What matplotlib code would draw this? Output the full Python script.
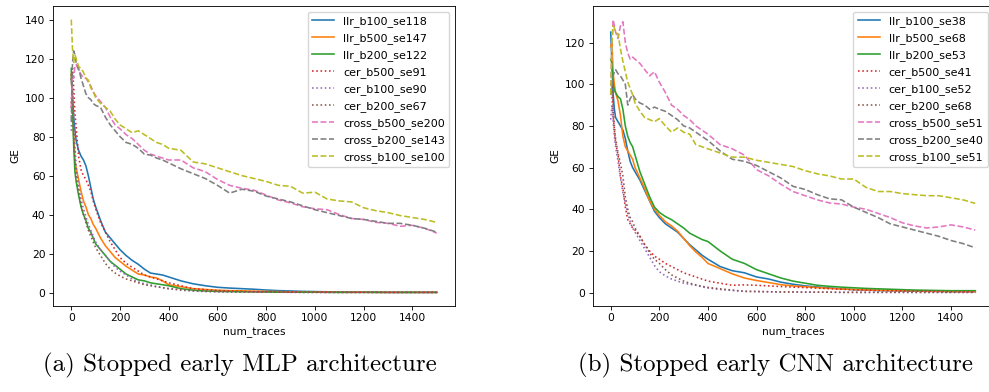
import matplotlib
matplotlib.use("Agg")
import matplotlib.pyplot as plt

# Shared sampling points (number of traces)
num_traces = [0, 5, 10, 15, 20, 30, 40, 50, 60, 70, 80, 90, 100, 120, 140, 160, 180, 200,
              225, 250, 275, 300, 325, 350, 375, 400, 450, 500, 550, 600, 650, 700, 750,
              800, 850, 900, 950, 1000, 1050, 1100, 1150, 1200, 1250, 1300, 1350, 1400,
              1450, 1500]

# ---- MLP architecture (stopped early) ----
mlp_labels = ["llr_b100_se118", "llr_b500_se147", "llr_b200_se122",
              "cer_b500_se91", "cer_b100_se90", "cer_b200_se67",
              "cross_b500_se200", "cross_b200_se143", "cross_b100_se100"]

mlp_llr_b100 = [110, 100, 90, 83, 78, 73, 70, 68, 65, 60, 54, 48, 44, 37, 31, 28, 25, 22,
                19, 16.5, 14.5, 12, 10, 9.5, 9, 8, 6, 4.5, 3.5, 2.7, 2.3, 2, 1.7,
                1.3, 1, 0.8, 0.6, 0.5, 0.4, 0.3, 0.3, 0.2, 0.2, 0.1, 0.1, 0.1, 0.1, 0.1]
mlp_llr_b500 = [112, 95, 80, 68, 64, 58, 52, 47, 44, 40, 38, 35, 33, 28, 24, 21, 18, 16,
                13.5, 11.5, 9.5, 9, 8, 7.5, 6, 4, 3, 2, 1.6, 1.2, 1, 0.9, 0.7,
                0.6, 0.5, 0.4, 0.3, 0.3, 0.2, 0.2, 0.2, 0.2, 0.1, 0.1, 0.1, 0.1, 0.1, 0.1]
mlp_llr_b200 = [115, 95, 75, 62, 57, 50, 44, 40, 37, 33, 31, 28, 25, 22, 19, 16, 14, 12,
                9.5, 8, 6.5, 6, 5, 4.5, 4, 3.5, 2, 1.2, 0.8, 0.6, 0.5, 0.4, 0.3,
                0.3, 0.2, 0.2, 0.2, 0.2, 0.1, 0.1, 0.1, 0.1, 0.1, 0.1, 0.1, 0.1, 0.1, 0.1]
mlp_cer_b500 = [95, 115, 105, 92, 85, 70, 63, 60, 58, 55, 52, 47, 43, 36, 31, 26, 22, 18,
                15, 13, 11, 9, 8, 7, 6, 5, 3.5, 2, 1.5, 1, 0.8, 0.6, 0.5,
                0.4, 0.3, 0.3, 0.2, 0.2, 0.2, 0.1, 0.1, 0.1, 0.1, 0.1, 0.1, 0.1, 0.1, 0.1]
mlp_cer_b100 = [83, 105, 90, 75, 65, 55, 48, 43, 39, 35, 32, 29, 26, 22, 19, 16, 13, 11,
                9, 7, 5.5, 4.5, 4, 3, 2.5, 2, 1.2, 0.8, 0.5, 0.4, 0.3, 0.3, 0.2,
                0.2, 0.2, 0.1, 0.1, 0.1, 0.1, 0.1, 0.1, 0.1, 0.1, 0.1, 0.1, 0.1, 0.1, 0.1]
mlp_cer_b200 = [112, 100, 80, 68, 60, 52, 45, 40, 36, 32, 29, 26, 23, 19, 15, 12, 10, 8.5,
                7, 6, 5, 4, 3.5, 3, 2.5, 2, 1.5, 1, 0.7, 0.5, 0.4, 0.3, 0.3,
                0.2, 0.2, 0.2, 0.1, 0.1, 0.1, 0.1, 0.1, 0.1, 0.1, 0.1, 0.1, 0.1, 0.1, 0.1]
mlp_cross_b500 = [95, 112, 110, 116, 117, 114, 112, 110, 110, 108, 106, 103, 101, 98, 95, 90,
                  86, 84, 81, 79, 76, 73, 71, 70, 69, 68, 68, 64, 62, 58, 55, 53.5, 52.5,
                  50, 47.5, 46, 44, 43, 42.5, 40, 38, 37.5, 36, 35.5, 34, 34.5, 33, 30.5]
mlp_cross_b200 = [88, 118, 124, 122, 118, 115, 110, 106, 102, 100, 99, 97, 96, 95, 90, 86,
                  83, 80, 77, 76, 74, 71, 70.5, 69, 68, 66.5, 63.5, 61, 58.5, 55, 51, 53, 52,
                  49.5, 48, 46.5, 44.5, 42.5, 41, 39.5, 38, 37.5, 36.5, 35.5, 35.5, 34.5, 33, 31]
mlp_cross_b100 = [140, 125, 118, 122, 120, 116, 115, 113, 110, 109, 105, 103, 100, 97, 95, 93,
                  89, 86, 84, 82, 83, 81, 79, 77, 76, 74, 73, 67, 66, 64, 62, 60, 58.5,
                  57, 55, 54.5, 51, 51.5, 48, 47, 46.5, 43.5, 42, 41, 39.5, 38.5, 37.5, 36]

# ---- CNN architecture (stopped early) ----
cnn_labels = ["llr_b100_se38", "llr_b500_se68", "llr_b200_se53",
              "cer_b500_se41", "cer_b100_se52", "cer_b200_se68",
              "cross_b500_se51", "cross_b200_se40", "cross_b100_se51"]

cnn_llr_b100 = [125, 110, 95, 88, 84, 82, 80, 78, 74, 68, 63, 60, 58, 54, 49, 44, 39, 36,
                33, 31, 29, 26, 23, 20.5, 18, 16, 12.5, 10.5, 9.5, 7.5, 6.5, 5, 4,
                3.2, 2.7, 2.2, 1.8, 1.4, 1.2, 1, 0.9, 0.8, 0.7, 0.6, 0.6, 0.5, 0.5, 0.5]
cnn_llr_b500 = [118, 120, 105, 100, 96, 92, 85, 75, 70, 68, 66, 64, 60, 55, 50, 44, 40, 37,
                34, 32, 29.5, 26, 22.5, 19.5, 17, 14, 11.5, 9, 7, 5.8, 4.8, 3.8, 3.2,
                2.8, 2.4, 2, 1.7, 1.5, 1.3, 1.1, 1, 0.9, 0.8, 0.7, 0.6, 0.5, 0.5, 0.4]
cnn_llr_b200 = [112, 110, 100, 97, 96, 94, 93, 88, 80, 75, 72, 70, 66, 58, 52, 46, 41, 38.5,
                36.5, 35, 33, 31, 28.5, 27, 25.5, 24.5, 20, 16, 14, 11, 9, 7, 5.5,
                4.5, 3.5, 3, 2.6, 2.3, 2, 1.8, 1.6, 1.4, 1.2, 1.1, 1, 0.9, 0.9, 0.9]
cnn_cer_b500 = [100, 95, 85, 78, 72, 66, 56, 50, 41, 35, 33, 31, 30, 27, 23, 20, 17.5, 16,
                14, 12.5, 11, 9.5, 8.5, 7.5, 6.5, 5.5, 4.5, 3.5, 3.7, 3.5, 3.2, 2.9, 2.6,
                2.4, 2.1, 1.9, 1.6, 1.3, 1.2, 1, 0.9, 0.8, 0.7, 0.6, 0.5, 0.4, 0.4, 0.3]
cnn_cer_b100 = [83, 90, 82, 75, 70, 63, 55, 48, 43, 38, 34, 31, 29, 25, 21, 17, 13, 10,
                8, 6.5, 5.5, 4.5, 4, 3.5, 2.8, 2.2, 1.5, 1, 0.6, 0.5, 0.4, 0.3, 0.3,
                0.2, 0.2, 0.2, 0.1, 0.1, 0.1, 0.1, 0.1, 0.1, 0.1, 0.1, 0.1, 0.1, 0.1, 0.1]
cnn_cer_b200 = [95, 100, 90, 80, 74, 67, 62, 56, 46, 40, 36, 34, 31, 27, 23, 19, 16, 14,
                11, 8.5, 7, 5.5, 4.5, 3.7, 3, 2.5, 1.8, 1.2, 0.6, 0.5, 0.4, 0.3, 0.3,
                0.2, 0.2, 0.2, 0.1, 0.1, 0.1, 0.1, 0.1, 0.1, 0.1, 0.1, 0.1, 0.1, 0.1, 0.1]
cnn_cross_b500 = [95, 120, 131, 128, 125, 122, 128, 130, 120, 115, 112, 113, 112, 110, 107, 104,
                  106, 101, 96, 90, 88, 85, 83, 80, 78, 76, 71, 69, 66, 59, 56, 52, 48.5,
                  46.5, 44.5, 43, 42.5, 41, 40, 38, 36, 33.5, 32, 31, 31.5, 32.5, 31.5, 30]
cnn_cross_b200 = [95, 100, 104, 106, 107, 105, 104, 102, 100, 90, 93, 95, 93, 91, 90, 88,
                  89, 88, 87, 85, 83, 80, 79, 77, 75, 73, 68, 64, 63, 61, 58, 55, 51,
                  49.5, 47, 45, 44.5, 41, 38.5, 36, 33, 31.5, 30, 28.5, 27, 25, 23.5, 21.5]
cnn_cross_b100 = [95, 120, 128, 127, 125, 124, 117, 111, 106, 101, 98, 95, 91, 87, 84, 83,
                  82, 83.5, 80, 77, 79, 77, 76, 71, 70, 69, 67, 65, 65, 63.5, 62.5, 61.5, 60.5,
                  58.5, 57, 56, 54.5, 54.5, 50.5, 48.5, 48.5, 47.5, 47, 46.5, 46.5, 45.5, 44.5, 42.8]

mlp_series = [mlp_llr_b100, mlp_llr_b500, mlp_llr_b200, mlp_cer_b500, mlp_cer_b100,
              mlp_cer_b200, mlp_cross_b500, mlp_cross_b200, mlp_cross_b100]
cnn_series = [cnn_llr_b100, cnn_llr_b500, cnn_llr_b200, cnn_cer_b500, cnn_cer_b100,
              cnn_cer_b200, cnn_cross_b500, cnn_cross_b200, cnn_cross_b100]

captions = ["(a) Stopped early MLP architecture", "(b) Stopped early CNN architecture"]

styles = ["-", "-", "-", ":", ":", ":", "--", "--", "--"]
colors = ["C%d" % i for i in range(9)]

s = 0.77  # global scale for fonts/lines
plt.rcParams.update({
    "font.size": 10 * s,
    "legend.fontsize": 8,
    "axes.linewidth": 0.8 * s,
    "xtick.major.width": 0.8 * s,
    "ytick.major.width": 0.8 * s,
    "xtick.major.size": 3.5 * s,
    "ytick.major.size": 3.5 * s,
    "xtick.major.pad": 3.5 * s,
    "ytick.major.pad": 3.5 * s,
    "axes.labelpad": 4 * s,
    "lines.linewidth": 1.5 * s,
})

fig = plt.figure(figsize=(9.89, 3.92), dpi=100)
W, H = 989, 392
ax_left = fig.add_axes([53 / W, (H - 306) / H, 402 / W, 300 / H])
ax_right = fig.add_axes([592.5 / W, (H - 306) / H, 401 / W, 300 / H])

for ax, series, labels, yt in [(ax_left, mlp_series, mlp_labels, [0, 20, 40, 60, 80, 100, 120, 140]),
                               (ax_right, cnn_series, cnn_labels, [0, 20, 40, 60, 80, 100, 120])]:
    for vals, lab, ls, c in zip(series, labels, styles, colors):
        ax.plot(num_traces, vals, linestyle=ls, color=c, label=lab)
    ax.set_xlabel("num_traces")
    ax.set_ylabel("GE")
    ax.set_xticks([0, 200, 400, 600, 800, 1000, 1200, 1400])
    ax.set_yticks(yt)
    ax.legend(loc="upper right", labelspacing=0.55)

fig.text(240 / W, 1 - 365 / H, captions[0], family="cmr10", fontsize=18,
         ha="center", va="center")
fig.text(775 / W, 1 - 365 / H, captions[1], family="cmr10", fontsize=18,
         ha="center", va="center")

fig.savefig("out.png", dpi=100)
